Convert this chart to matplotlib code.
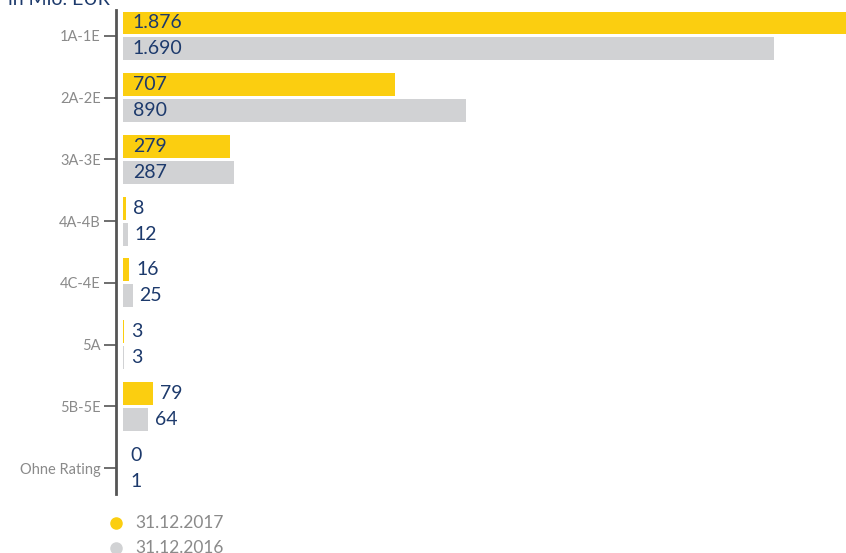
import matplotlib.pyplot as plt
import numpy as np

plt.rcParams['font.family'] = ['Lato', 'DejaVu Sans']

# Ratingklassen und Volumen in Mio. EUR
categories = ['1A-1E', '2A-2E', '3A-3E', '4A-4B', '4C-4E', '5A', '5B-5E', 'Ohne Rating']
values_2017 = [1876, 707, 279, 8, 16, 3, 79, 0]
values_2016 = [1690, 890, 287, 12, 25, 3, 64, 1]
series_labels = ['31.12.2017', '31.12.2016']

YELLOW = '#FBCE10'
GREY = '#D1D2D4'
NAVY = '#1D3A6C'
TICK_GREY = '#8A8A8A'


def fmt(v):
    # deutsches Tausendertrennzeichen
    return f"{v:,}".replace(',', '.')


fig = plt.figure(figsize=(8.46, 5.53), dpi=100)
ax = fig.add_axes([116 / 846, 1 - 494 / 553, 1 - 116 / 846, 484 / 553])

y = np.arange(len(categories))
h = 0.37
off = 0.21

for vals, color, dy in [(values_2017, YELLOW, -off), (values_2016, GREY, off)]:
    ax.barh(y + dy, vals, height=h, color=color, left=0)
    for yi, v in zip(y, vals):
        if v > 200:
            ax.annotate(fmt(v), (0, yi + dy), xytext=(7, 0), textcoords='offset points',
                        va='center', ha='left', fontsize=14, color=NAVY)
        else:
            ax.annotate(fmt(v), (v, yi + dy), xytext=(5, 0), textcoords='offset points',
                        va='center', ha='left', fontsize=14, color=NAVY)

ax.set_xlim(-18, 1876)
ax.set_ylim(len(categories) - 1 + 0.42, -0.42)
ax.set_yticks(y)
ax.set_yticklabels(categories, fontsize=10.5, color=TICK_GREY)
ax.tick_params(axis='y', length=9, width=1.2, color='#555555', pad=2)
ax.set_xticks([])
for s in ['top', 'right', 'bottom']:
    ax.spines[s].set_visible(False)
ax.spines['left'].set_color('#555555')
ax.spines['left'].set_linewidth(2)

fig.text(8 / 846, 1 - 5 / 553, 'in Mio. EUR', fontsize=14, color=NAVY, va='baseline', ha='left')

# Legende
for i, (lab, col) in enumerate(zip(series_labels, [YELLOW, GREY])):
    yy = 1 - (523 + 25 * i) / 553
    fig.add_artist(plt.Line2D([116 / 846], [yy], marker='o', markersize=8, color=col,
                              linestyle='none', transform=fig.transFigure))
    fig.text(135 / 846, yy, lab, fontsize=12.5, color=TICK_GREY, va='center', ha='left')

fig.savefig('out.png', dpi=100)
